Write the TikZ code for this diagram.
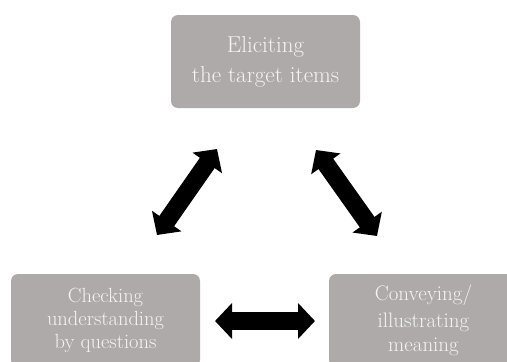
\documentclass[tikz,border=0pt]{standalone}
\usepackage{tikz}
\usetikzlibrary{arrows.meta,positioning}
\definecolor{boxgray}{RGB}{174,170,170}
\definecolor{boxtext}{RGB}{244,244,244}

\begin{document}
\begin{tikzpicture}[x=1pt,y=-1pt]
 \tikzstyle{stage}=[fill=boxgray,rounded corners=7pt,minimum width=189pt,minimum height=93pt,text=boxtext,align=center,font=\fontsize{21}{24}\selectfont]
 \tikzstyle{link}=[line width=18pt,{Triangle[width=35pt,length=17pt]}-{Triangle[width=35pt,length=17pt]}]

   \useasboundingbox (0,0) rectangle (507,362);
   \clip (0,0) rectangle (507,362);

   \node[stage,font=\fontsize{23}{26}\selectfont] (eli) at (265.5,61.5) {Eliciting\\[4pt]the target items};
   \node[stage,font=\fontsize{20.5}{23}\selectfont] (chk) at (105.5,320.5) {Checking\\understanding\\by questions};
   \node[stage] (con) at (423.5,320.5) {Conveying/\\[3pt]illustrating\\meaning};

   \coordinate (chk end) at (157,235);
   \coordinate (eli left) at (217,149);
   \coordinate (eli right) at (316,150);
   \coordinate (con end) at (377,236);
   \coordinate (chk side) at (215,321);
   \coordinate (con side) at (315,321);

   \path[link]
   (chk end) edge (eli left)
   (eli right) edge (con end)
   (chk side) edge (con side);

\end{tikzpicture}
\end{document}
